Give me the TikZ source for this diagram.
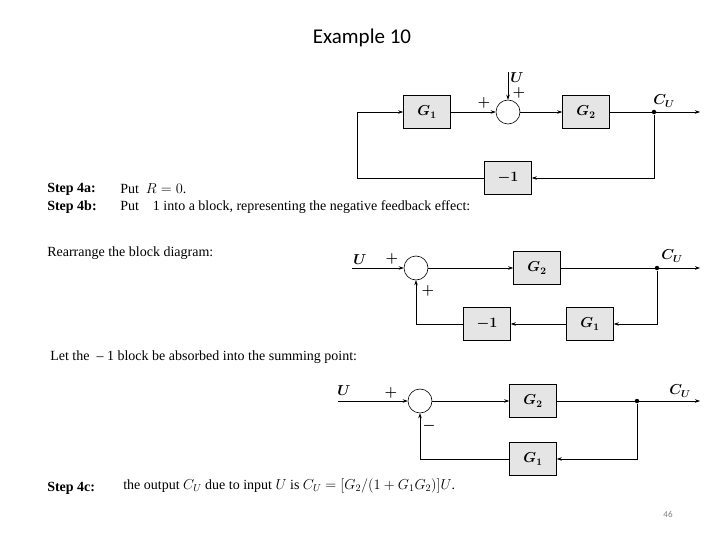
\documentclass[tikz,border=0pt]{standalone}
\usepackage{fontspec}
\setmainfont{Liberation Serif}
\newfontfamily\titlefont{Carlito}
\usetikzlibrary{arrows.meta}
\begin{document}
\begin{tikzpicture}[x=1pt,y=-1pt,>={Stealth[length=5pt,width=3.5pt]},semithick,
  blk/.style={draw,fill=gray!20,minimum width=47pt,minimum height=33pt,font=\fontsize{14}{16}\selectfont\boldmath},
  sum/.style={draw,circle,minimum size=24pt,inner sep=0pt},
  dot/.style={circle,fill,inner sep=0pt,minimum size=4.5pt},
  lbl/.style={font=\fontsize{14}{16}\selectfont\boldmath},
  txt/.style={anchor=west,inner sep=0pt,font=\fontsize{14}{16}\selectfont}]
\useasboundingbox (0,0) rectangle (720,540);
\node[font=\titlefont\fontsize{21}{24}\selectfont] (title) at (362,38) {Example 10};
% first diagram
\node[blk] (g1a) at (427,112) {$G_1$};
\node[sum] (sa) at (508,112) {};
\node[blk] (g2a) at (586,112) {$G_2$};
\node[blk] (ma) at (508,178) {$-1$};
\node[dot] (pa) at (654,112) {};
\coordinate (ua) at (508,72);
\coordinate (oa) at (700,112);
\coordinate (la) at (357,178);
\draw[->] (g1a) -- (sa);
\draw[->] (ua) -- (sa);
\draw[->] (sa) -- (g2a);
\draw[->] (g2a) -- (oa);
\draw[->] (pa) |- (ma);
\draw[->] (ma) -| (la) |- (g1a);
\node[lbl] at (484,103) {$+$};
\node[lbl] at (519,93) {$+$};
\node[lbl] at (517,78) {$U$};
\node[lbl] at (664,101) {$C_U$};
% second diagram
\node[sum] (sb) at (416,268) {};
\node[blk] (g2b) at (537,268) {$G_2$};
\node[blk] (g1b) at (590,324) {$G_1$};
\node[blk] (mb) at (487,324) {$-1$};
\node[dot] (pb) at (657,268) {};
\coordinate (ub) at (352,268);
\coordinate (ob) at (700,268);
\draw[->] (ub) -- (sb);
\draw[->] (sb) -- (g2b);
\draw[->] (g2b) -- (ob);
\draw[->] (pb) |- (g1b);
\draw[->] (g1b) -- (mb);
\draw[->] (mb) -| (sb);
\node[lbl] at (360,260) {$U$};
\node[lbl] at (392,259) {$+$};
\node[lbl] at (428,291) {$+$};
\node[lbl] at (672,256) {$C_U$};
% third diagram
\node[sum] (sc) at (420,401) {};
\node[blk] (g2c) at (533,401) {$G_2$};
\node[blk] (g1c) at (533,459) {$G_1$};
\node[dot] (pc) at (637,401) {};
\coordinate (uc) at (338,401);
\coordinate (oc) at (700,401);
\draw[->] (uc) -- (sc);
\draw[->] (sc) -- (g2c);
\draw[->] (g2c) -- (oc);
\draw[->] (pc) |- (g1c);
\draw[->] (g1c) -| (sc);
\node[lbl] at (344,391) {$U$};
\node[lbl] at (391,393) {$+$};
\node[lbl] at (429,426) {$-$};
\node[lbl] at (680,391) {$C_U$};
% text
\node[txt] (s4a) at (47,189) {\textbf{Step 4a:}};
\node[txt] (t4a) at (120,189) {Put\ \ $R=0$.};
\node[txt] (s4b) at (47,207) {\textbf{Step 4b:}};
\node[txt] (t4b) at (120,207) {Put\ \ \ \ 1 into a block, representing the negative feedback effect:};
\node[txt] (rearr) at (47,253) {Rearrange the block diagram:};
\node[txt] (absorb) at (50,357) {Let the \ -- 1 block be absorbed into the summing point:};
\node[txt] (s4c) at (47,488) {\textbf{Step 4c:}};
\node[txt] (t4c) at (123,486) {the output $C_U$ due to input $U$ is $C_U=[G_2/(1+G_1G_2)]U$.};
\node[font=\titlefont\fontsize{9}{10}\selectfont,text=gray] (page) at (668,514) {46};
\end{tikzpicture}
\end{document}
